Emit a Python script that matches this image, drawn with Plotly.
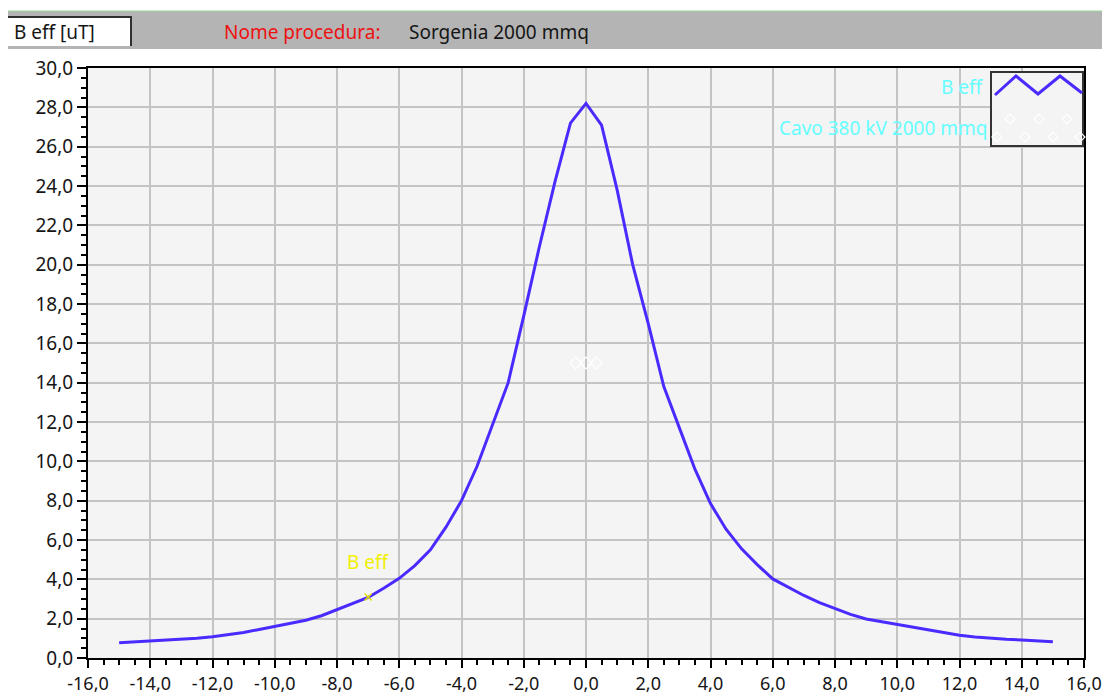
import plotly.graph_objects as go

# ---------------- data ----------------
distance_m = [-15.0, -14.5, -14.0, -13.5, -13.0, -12.5, -12.0, -11.5, -11.0, -10.5,
              -10.0, -9.5, -9.0, -8.5, -8.0, -7.5, -7.0, -6.5, -6.0, -5.5,
              -5.0, -4.5, -4.0, -3.5, -3.0, -2.5, -2.0, -1.5, -1.0, -0.5,
              0.0, 0.5, 1.0, 1.5, 2.0, 2.5, 3.0, 3.5, 4.0, 4.5,
              5.0, 5.5, 6.0, 6.5, 7.0, 7.5, 8.0, 8.5, 9.0, 9.5,
              10.0, 10.5, 11.0, 11.5, 12.0, 12.5, 13.0, 13.5, 14.0, 14.5, 15.0]
b_eff_uT = [0.78, 0.82, 0.86, 0.90, 0.95, 1.01, 1.08, 1.18, 1.30, 1.45,
            1.60, 1.75, 1.92, 2.15, 2.45, 2.75, 3.08, 3.55, 4.05, 4.70,
            5.50, 6.65, 8.00, 9.75, 11.90, 14.00, 17.40, 20.90, 24.20, 27.20,
            28.20, 27.10, 23.80, 20.00, 17.00, 13.80, 11.70, 9.60, 7.85, 6.55,
            5.55, 4.75, 4.02, 3.58, 3.18, 2.82, 2.50, 2.22, 1.98, 1.84,
            1.72, 1.59, 1.45, 1.30, 1.16, 1.07, 1.00, 0.95, 0.92, 0.87, 0.83]

cable_x = [-0.33, 0.0, 0.33]
cable_y = [15.0, 15.0, 15.0]

cursor_x = [-7.0]
cursor_y = [3.1]

x_tickvals = [-16, -14, -12, -10, -8, -6, -4, -2, 0, 2, 4, 6, 8, 10, 12, 14, 16]
x_ticktext = ["-16,0", "-14,0", "-12,0", "-10,0", "-8,0", "-6,0", "-4,0", "-2,0", "0,0",
              "2,0", "4,0", "6,0", "8,0", "10,0", "12,0", "14,0", "16,0"]
y_tickvals = [0, 2, 4, 6, 8, 10, 12, 14, 16, 18, 20, 22, 24, 26, 28, 30]
y_ticktext = ["0,0", "2,0", "4,0", "6,0", "8,0", "10,0", "12,0", "14,0", "16,0",
              "18,0", "20,0", "22,0", "24,0", "26,0", "28,0", "30,0"]

# ---------------- layout geometry ----------------
W, H = 1102, 695
L, R, T, B = 88, 18, 68, 37
PW, PH = W - L - R, H - T - B


def px(x):
    return (x - L) / PW


def py(y):
    return (H - B - y) / PH


LINE_COLOR = "#4a2bff"
FONT = "Noto Sans"

fig = go.Figure()

fig.add_trace(go.Scatter(
    x=distance_m, y=b_eff_uT, mode="lines",
    line=dict(color=LINE_COLOR, width=3), name="B eff", showlegend=False,
    hoverinfo="skip"))

fig.add_trace(go.Scatter(
    x=cable_x, y=cable_y, mode="markers",
    marker=dict(symbol="diamond-open", color="white", size=9, line=dict(width=1.2, color="white")),
    name="Cavo 380 kV 2000 mmq", showlegend=False))

fig.add_trace(go.Scatter(
    x=cursor_x, y=cursor_y, mode="markers",
    marker=dict(symbol="x-thin", size=7, line=dict(width=1.5, color="#e8e000")),
    showlegend=False))

axis_common = dict(
    showline=True, linecolor="black", linewidth=2, mirror=True,
    ticks="outside", tickwidth=2, tickcolor="black",
    showgrid=True, gridcolor="#c4c4c4", gridwidth=2,
    zeroline=False, automargin=False,
    tickmode="array", ticklabeloverflow="allow",
)

fig.update_xaxes(range=[-16, 16], tickvals=x_tickvals, ticktext=x_ticktext, ticklen=8,
                 tickfont=dict(family=FONT, size=18, color="#151515"),
                 minor=dict(tickmode="linear", tick0=0, dtick=0.5, ticks="outside", ticklen=5,
                            tickwidth=2, tickcolor="black", showgrid=False),
                 **axis_common)
fig.update_yaxes(range=[0, 30], tickvals=y_tickvals, ticktext=y_ticktext, ticklen=9,
                 tickfont=dict(family=FONT, size=19, color="#151515"),
                 minor=dict(tickmode="linear", tick0=0, dtick=0.5, ticks="outside", ticklen=5,
                            tickwidth=2, tickcolor="black", showgrid=False),
                 **axis_common)

shapes = []
# header bar
shapes.append(dict(type="rect", xref="paper", yref="paper", x0=px(8), x1=px(W + 2),
                   y0=py(49), y1=py(11), fillcolor="#b4b4b4", line=dict(width=0), layer="below"))
shapes.append(dict(type="line", xref="paper", yref="paper", x0=px(8), x1=px(W + 2),
                   y0=py(11), y1=py(11), line=dict(color="#9ad89a", width=1)))
# white title box
shapes.append(dict(type="rect", xref="paper", yref="paper", x0=px(8), x1=px(131),
                   y0=py(46), y1=py(17), fillcolor="white", line=dict(width=0)))
shapes.append(dict(type="path", xref="paper", yref="paper",
                   path=f"M {px(8)},{py(17)} L {px(131)},{py(17)} L {px(131)},{py(46)}",
                   line=dict(color="#303030", width=2)))
# legend box inside plot
shapes.append(dict(type="rect", xref="paper", yref="paper", x0=px(991), x1=px(1083),
                   y0=py(146), y1=py(72), fillcolor="#f4f4f4", line=dict(color="#333333", width=2)))
zig = [(995, 95), (1016, 76), (1038, 94), (1060, 76), (1082, 93)]
path = "M " + " L ".join(f"{px(a)},{py(b)}" for a, b in zig)
shapes.append(dict(type="path", xref="paper", yref="paper", path=path,
                   line=dict(color=LINE_COLOR, width=3)))
for cx, cy in [(1010, 119), (1039, 119), (1067, 119), (997, 137), (1025, 137), (1053, 137), (1080, 137)]:
    d = 5
    p = (f"M {px(cx - d)},{py(cy)} L {px(cx)},{py(cy - d)} L {px(cx + d)},{py(cy)} "
         f"L {px(cx)},{py(cy + d)} Z")
    shapes.append(dict(type="path", xref="paper", yref="paper", path=p,
                       line=dict(color="white", width=1.2)))

annotations = [
    dict(text="B eff [uT]", xref="paper", yref="paper", x=px(12), y=py(32),
         xanchor="left", yanchor="middle", showarrow=False,
         font=dict(family=FONT, size=19, color="#151515")),
    dict(text="Nome procedura:", xref="paper", yref="paper", x=px(222), y=py(32),
         xanchor="left", yanchor="middle", showarrow=False,
         font=dict(family=FONT, size=19, color="#ee1111")),
    dict(text="Sorgenia 2000 mmq", xref="paper", yref="paper", x=px(407), y=py(32),
         xanchor="left", yanchor="middle", showarrow=False,
         font=dict(family=FONT, size=19, color="#151515")),
    dict(text="B eff", xref="paper", yref="paper", x=px(985), y=py(87),
         xanchor="right", yanchor="middle", showarrow=False,
         font=dict(family=FONT, size=19, color="#66ffff")),
    dict(text="Cavo 380 kV 2000 mmq", xref="paper", yref="paper", x=px(989), y=py(128),
         xanchor="right", yanchor="middle", showarrow=False,
         font=dict(family=FONT, size=19, color="#66ffff")),
    dict(text="B eff", x=-7.0, y=4.9, xref="x", yref="y",
         xanchor="center", yanchor="middle", showarrow=False,
         font=dict(family=FONT, size=19, color="#f0f000")),
]

fig.update_layout(
    template="none",
    width=W, height=H,
    margin=dict(l=L, r=R, t=T, b=B, pad=0),
    paper_bgcolor="white", plot_bgcolor="#f4f4f4",
    shapes=shapes, annotations=annotations,
    showlegend=False,
    font=dict(family=FONT),
)

fig.write_html("out.html")
